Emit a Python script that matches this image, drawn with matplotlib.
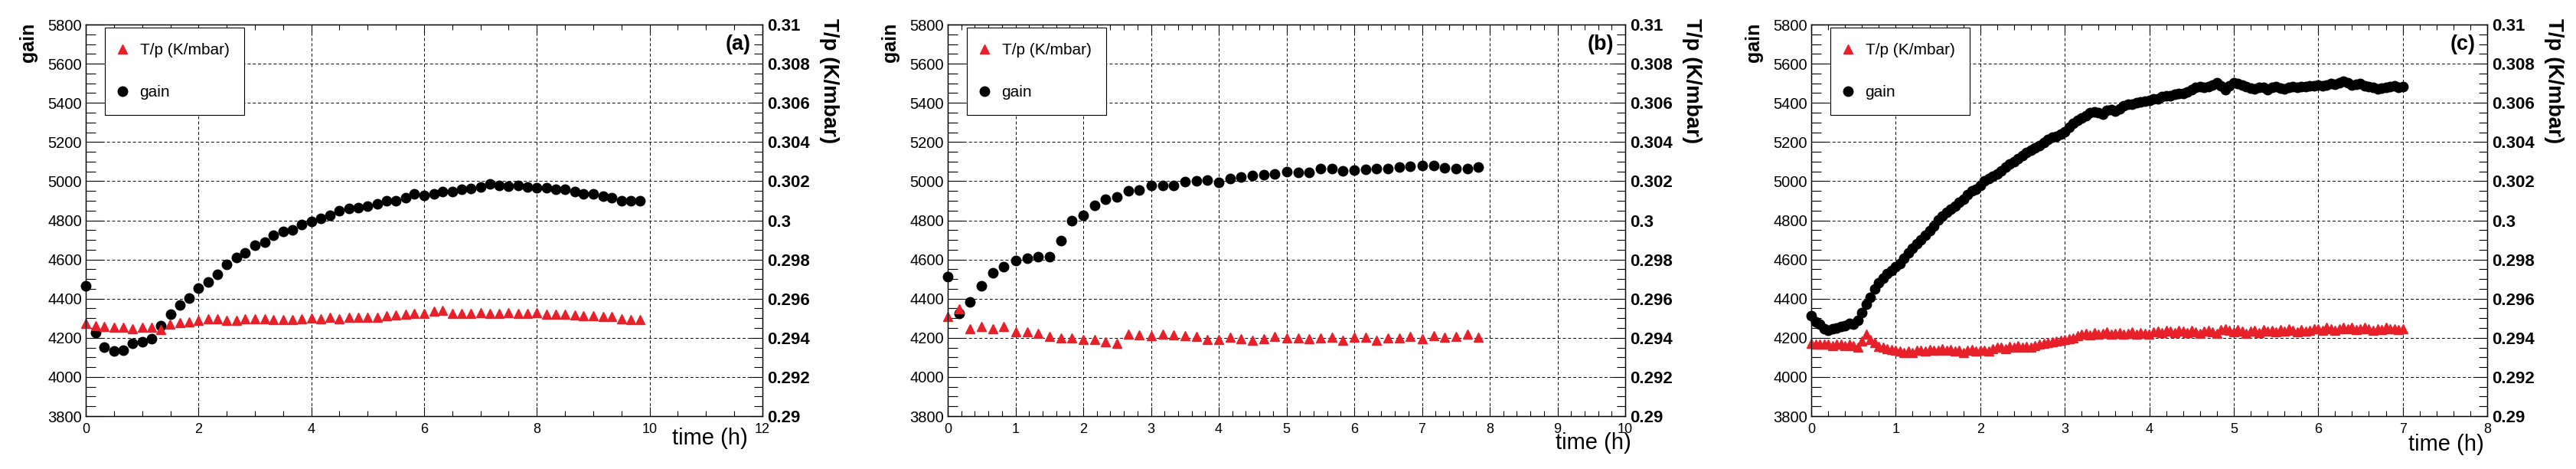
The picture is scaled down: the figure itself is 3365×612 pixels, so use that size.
#!/usr/bin/env python
import matplotlib
matplotlib.use('Agg')
import matplotlib.pyplot as plt
from matplotlib.lines import Line2D
from matplotlib.ticker import MultipleLocator, FuncFormatter

plt.rcParams['font.family'] = ['Liberation Sans', 'DejaVu Sans']

RED = '#e8202a'
W, H = 3365, 612

# ---- panel (a) ----
t_a = [0.00, 0.17, 0.33, 0.50, 0.67, 0.83, 1.00, 1.17, 1.33, 1.50,
       1.67, 1.83, 2.00, 2.17, 2.33, 2.50, 2.67, 2.83, 3.00, 3.17,
       3.33, 3.50, 3.67, 3.83, 4.00, 4.17, 4.33, 4.50, 4.67, 4.83,
       5.00, 5.17, 5.33, 5.50, 5.67, 5.83, 6.00, 6.17, 6.33, 6.50,
       6.67, 6.83, 7.00, 7.17, 7.33, 7.50, 7.67, 7.83, 8.00, 8.17,
       8.33, 8.50, 8.67, 8.83, 9.00, 9.17, 9.33, 9.50, 9.67, 9.83]
gain_a = [4466, 4225, 4151, 4131, 4138, 4172, 4181, 4195, 4263, 4321,
          4367, 4402, 4452, 4484, 4523, 4573, 4611, 4634, 4672, 4687,
          4725, 4744, 4751, 4779, 4794, 4809, 4827, 4847, 4859, 4866,
          4873, 4885, 4898, 4898, 4916, 4936, 4927, 4936, 4946, 4946,
          4957, 4962, 4969, 4984, 4977, 4974, 4977, 4969, 4965, 4965,
          4957, 4957, 4946, 4936, 4936, 4924, 4916, 4898, 4898, 4901]
tp_a = [0.29473, 0.29463, 0.29457, 0.29453, 0.29453, 0.29445, 0.29453, 0.29453, 0.29441, 0.29471,
        0.29476, 0.29483, 0.29488, 0.29497, 0.29497, 0.29491, 0.29491, 0.29498, 0.29498, 0.29498,
        0.29494, 0.29494, 0.29494, 0.29498, 0.29502, 0.29498, 0.29506, 0.29497, 0.29503, 0.29506,
        0.29506, 0.29506, 0.29514, 0.29517, 0.29521, 0.29524, 0.29524, 0.29537, 0.29540, 0.29524,
        0.29526, 0.29524, 0.29527, 0.29526, 0.29524, 0.29529, 0.29526, 0.29524, 0.29530, 0.29521,
        0.29521, 0.29521, 0.29517, 0.29512, 0.29512, 0.29509, 0.29509, 0.29498, 0.29495, 0.29494]

# ---- panel (b) ----
t_b = [0.00, 0.17, 0.33, 0.50, 0.67, 0.83, 1.00, 1.17, 1.33, 1.50,
       1.67, 1.83, 2.00, 2.17, 2.33, 2.50, 2.67, 2.83, 3.00, 3.17,
       3.33, 3.50, 3.67, 3.83, 4.00, 4.17, 4.33, 4.50, 4.67, 4.83,
       5.00, 5.17, 5.33, 5.50, 5.67, 5.83, 6.00, 6.17, 6.33, 6.50,
       6.67, 6.83, 7.00, 7.17, 7.33, 7.50, 7.67, 7.83]
gain_b = [4512, 4326, 4382, 4466, 4530, 4565, 4596, 4608, 4616, 4616,
          4695, 4798, 4824, 4876, 4908, 4920, 4951, 4954, 4977, 4980,
          4980, 4997, 5003, 5007, 4995, 5015, 5023, 5030, 5033, 5038,
          5050, 5045, 5045, 5065, 5065, 5053, 5056, 5061, 5065, 5065,
          5073, 5076, 5080, 5080, 5068, 5064, 5064, 5073]
tp_b = [0.29509, 0.29547, 0.29448, 0.29456, 0.29448, 0.29456, 0.29430, 0.29430, 0.29422, 0.29407,
        0.29399, 0.29399, 0.29392, 0.29392, 0.29380, 0.29372, 0.29418, 0.29415, 0.29410, 0.29419,
        0.29415, 0.29410, 0.29407, 0.29392, 0.29392, 0.29402, 0.29396, 0.29387, 0.29396, 0.29407,
        0.29399, 0.29399, 0.29396, 0.29399, 0.29402, 0.29389, 0.29402, 0.29402, 0.29389, 0.29399,
        0.29399, 0.29407, 0.29396, 0.29412, 0.29402, 0.29407, 0.29418, 0.29404]

# ---- panel (c) ----
t_c = [0.00, 0.05, 0.10, 0.15, 0.20, 0.25, 0.30, 0.35, 0.40, 0.45,
       0.50, 0.55, 0.60, 0.65, 0.70, 0.75, 0.80, 0.85, 0.90, 0.95,
       1.00, 1.05, 1.10, 1.15, 1.20, 1.25, 1.30, 1.35, 1.40, 1.45,
       1.50, 1.55, 1.60, 1.65, 1.70, 1.75, 1.80, 1.85, 1.90, 1.95,
       2.00, 2.05, 2.10, 2.15, 2.20, 2.25, 2.30, 2.35, 2.40, 2.45,
       2.50, 2.55, 2.60, 2.65, 2.70, 2.75, 2.80, 2.85, 2.90, 2.95,
       3.00, 3.05, 3.10, 3.15, 3.20, 3.25, 3.30, 3.35, 3.40, 3.45,
       3.50, 3.55, 3.60, 3.65, 3.70, 3.75, 3.80, 3.85, 3.90, 3.95,
       4.00, 4.05, 4.10, 4.15, 4.20, 4.25, 4.30, 4.35, 4.40, 4.45,
       4.50, 4.55, 4.60, 4.65, 4.70, 4.75, 4.80, 4.85, 4.90, 4.95,
       5.00, 5.05, 5.10, 5.15, 5.20, 5.25, 5.30, 5.35, 5.40, 5.45,
       5.50, 5.55, 5.60, 5.65, 5.70, 5.75, 5.80, 5.85, 5.90, 5.95,
       6.00, 6.05, 6.10, 6.15, 6.20, 6.25, 6.30, 6.35, 6.40, 6.45,
       6.50, 6.55, 6.60, 6.65, 6.70, 6.75, 6.80, 6.85, 6.90, 6.95,
       7.00]
gain_c = [4314, 4283, 4268, 4245, 4240, 4245, 4250, 4256, 4263, 4273,
          4268, 4291, 4329, 4370, 4405, 4451, 4481, 4504, 4527, 4542,
          4565, 4580, 4608, 4634, 4657, 4680, 4702, 4725, 4748, 4771,
          4802, 4821, 4840, 4858, 4873, 4893, 4908, 4931, 4949, 4959,
          4977, 5000, 5015, 5026, 5038, 5053, 5071, 5087, 5099, 5117,
          5129, 5148, 5160, 5168, 5183, 5198, 5213, 5224, 5229, 5239,
          5251, 5274, 5294, 5309, 5324, 5335, 5350, 5355, 5350, 5343,
          5361, 5366, 5358, 5370, 5385, 5391, 5391, 5399, 5404, 5407,
          5411, 5422, 5419, 5431, 5437, 5437, 5442, 5446, 5446, 5457,
          5468, 5480, 5483, 5480, 5483, 5491, 5503, 5488, 5468, 5488,
          5503, 5498, 5491, 5483, 5477, 5472, 5480, 5480, 5469, 5480,
          5483, 5477, 5472, 5480, 5483, 5480, 5483, 5483, 5488, 5485,
          5491, 5488, 5492, 5498, 5495, 5503, 5510, 5503, 5492, 5495,
          5498, 5488, 5483, 5480, 5472, 5477, 5480, 5483, 5488, 5480,
          5483]
tp_c = [0.29372, 0.29369, 0.29369, 0.29366, 0.29369, 0.29361, 0.29369, 0.29366, 0.29361, 0.29366,
        0.29361, 0.29354, 0.29384, 0.29418, 0.29392, 0.29377, 0.29357, 0.29351, 0.29346, 0.29341,
        0.29335, 0.29331, 0.29326, 0.29331, 0.29326, 0.29338, 0.29335, 0.29331, 0.29341, 0.29338,
        0.29335, 0.29346, 0.29335, 0.29341, 0.29331, 0.29338, 0.29326, 0.29335, 0.29341, 0.29331,
        0.29335, 0.29338, 0.29331, 0.29346, 0.29351, 0.29354, 0.29346, 0.29357, 0.29351, 0.29361,
        0.29354, 0.29357, 0.29351, 0.29361, 0.29369, 0.29372, 0.29377, 0.29381, 0.29384, 0.29387,
        0.29392, 0.29396, 0.29399, 0.29412, 0.29418, 0.29422, 0.29415, 0.29427, 0.29418, 0.29422,
        0.29430, 0.29418, 0.29422, 0.29427, 0.29418, 0.29422, 0.29430, 0.29418, 0.29427, 0.29422,
        0.29418, 0.29430, 0.29433, 0.29427, 0.29438, 0.29433, 0.29427, 0.29438, 0.29433, 0.29427,
        0.29438, 0.29430, 0.29422, 0.29433, 0.29438, 0.29430, 0.29422, 0.29442, 0.29448, 0.29438,
        0.29430, 0.29442, 0.29433, 0.29422, 0.29433, 0.29438, 0.29427, 0.29442, 0.29433, 0.29438,
        0.29430, 0.29442, 0.29433, 0.29445, 0.29438, 0.29430, 0.29442, 0.29433, 0.29438, 0.29445,
        0.29448, 0.29438, 0.29453, 0.29445, 0.29438, 0.29448, 0.29453, 0.29445, 0.29453, 0.29442,
        0.29448, 0.29453, 0.29445, 0.29438, 0.29448, 0.29442, 0.29453, 0.29445, 0.29448, 0.29442,
        0.29445]

TAGS = ['(a)', '(b)', '(c)']
XMAX = [12, 10, 8]
XMAJ = [2, 1, 1]
XMIN = [0.5, 0.2, 0.2]


def draw(fig, left, width, tag, t, gain, tp, xmax, xmaj, xmin, xlab):
    # axes box in pixels: top 32, bottom 543
    ax = fig.add_axes([left / W, (H - 543) / H, width / W, 511 / H])
    ax.set_xlim(0, xmax)
    ax.set_ylim(3800, 5800)
    ax.xaxis.set_major_locator(MultipleLocator(xmaj))
    ax.xaxis.set_minor_locator(MultipleLocator(xmin))
    ax.yaxis.set_major_locator(MultipleLocator(200))
    ax.yaxis.set_minor_locator(MultipleLocator(50))
    ax.tick_params(axis='x', which='both', direction='in', top=True, bottom=True,
                   labelsize=13, pad=6.5, width=0.8)
    ax.tick_params(axis='x', which='major', length=9)
    ax.tick_params(axis='x', which='minor', length=5)
    ax.tick_params(axis='y', which='both', direction='in', labelsize=14.5, pad=3.6, width=0.8)
    ax.tick_params(axis='y', which='major', length=17)
    ax.tick_params(axis='y', which='minor', length=9)
    ax.grid(True, which='major', color='black', linestyle=(0, (4, 3)), linewidth=0.7)
    for s in ax.spines.values():
        s.set_linewidth(1.0)
    ax.plot(t, gain, 'o', color='black', ms=9, ls='none', clip_on=False)

    ax2 = ax.twinx()
    ax2.set_ylim(0.29, 0.31)
    ax2.yaxis.set_major_locator(MultipleLocator(0.002))
    ax2.yaxis.set_minor_locator(MultipleLocator(0.0005))
    ax2.yaxis.set_major_formatter(FuncFormatter(lambda v, p: '%g' % round(v, 4)))
    ax2.tick_params(axis='y', which='both', direction='in', labelsize=16, pad=4.3, width=0.8)
    ax2.tick_params(axis='y', which='major', length=12)
    ax2.tick_params(axis='y', which='minor', length=8)
    plt.setp(ax2.get_yticklabels(), fontweight='bold')
    ax2.plot(t, tp, '^', color=RED, ms=8.5, ls='none', clip_on=False)

    ax.set_ylabel('gain', fontsize=18, fontweight='bold', rotation=90,
                  ha='center', va='top', rotation_mode='default')
    ax.yaxis.set_label_coords(-0.0848, 1.004)
    ax2.set_ylabel('T/p (K/mbar)', fontsize=20, fontweight='bold', rotation=270,
                   ha='center', va='top', rotation_mode='default')
    ax2.yaxis.set_label_coords(1.0984, 1.0157)
    ax.set_xlabel('time (h)', fontsize=21, ha='right', va='center')
    ax.xaxis.set_label_coords(xlab[0], xlab[1])
    ax2.text(0.983, 0.949, tag, transform=ax.transAxes, ha='right', va='center',
             fontsize=19.5, fontweight='bold')

    handles = [Line2D([], [], marker='^', color=RED, ls='none', ms=8.5),
               Line2D([], [], marker='o', color='black', ls='none', ms=9)]
    leg = ax2.legend(handles, ['T/p (K/mbar)', 'gain'], loc='upper left',
                     bbox_to_anchor=(0.028, 0.992), borderaxespad=0, fontsize=15,
                     fancybox=False, edgecolor='black', framealpha=1,
                     borderpad=0.95, labelspacing=1.75, handlelength=0.3,
                     handletextpad=0.95)
    leg.get_frame().set_linewidth(0.8)


fig = plt.figure(figsize=(W / 100, H / 100), dpi=100, facecolor='w')
draw(fig, 112, 884, TAGS[0], t_a, gain_a, tp_a, XMAX[0], XMAJ[0], XMIN[0], (0.9785, -0.057))
draw(fig, 1238, 885, TAGS[1], t_b, gain_b, tp_b, XMAX[1], XMAJ[1], XMIN[1], (1.009, -0.0685))
draw(fig, 2366, 883, TAGS[2], t_c, gain_c, tp_c, XMAX[2], XMAJ[2], XMIN[2], (0.9955, -0.0724))
fig.savefig('out.png', dpi=100)
